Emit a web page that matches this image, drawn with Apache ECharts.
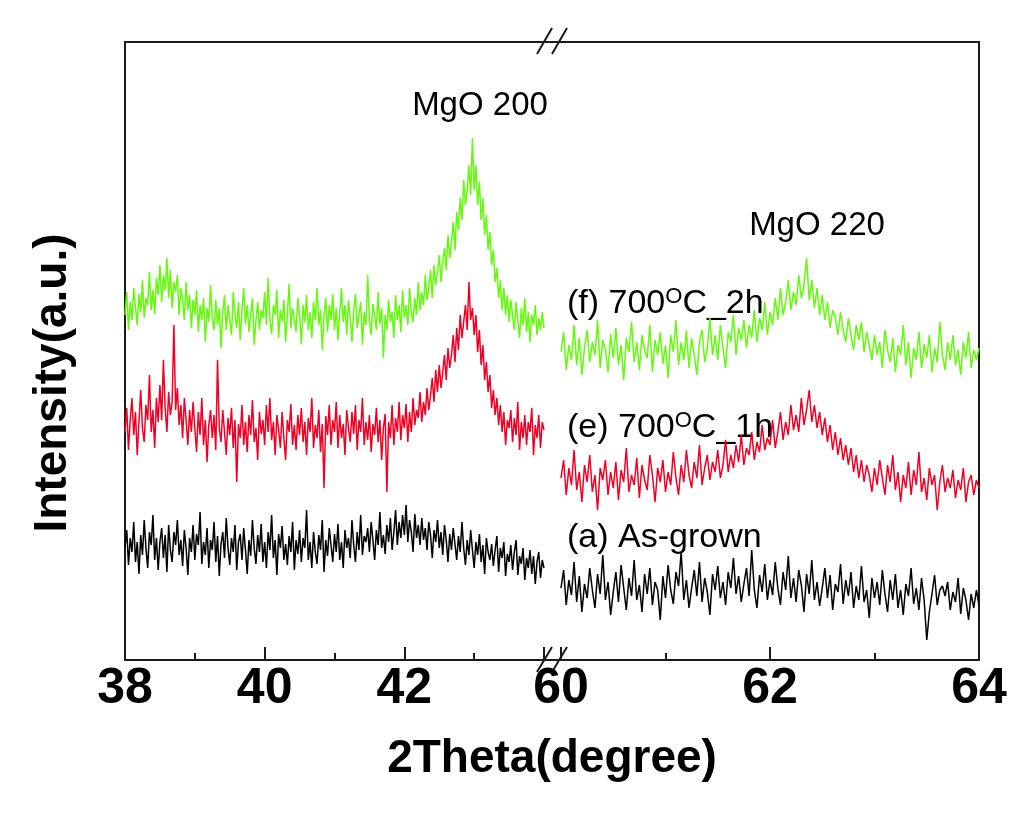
<!DOCTYPE html>
<html>
<head>
<meta charset="utf-8">
<script src="https://cdn.jsdelivr.net/npm/echarts/dist/echarts.min.js"></script>
<style>
  html, body { margin: 0; padding: 0; background: #fff; }
  #chart { width: 1024px; height: 817px; }
</style>
</head>
<body>
<div id="chart"></div>
<script>
// ---- Data (intensity in arbitrary units) ----
// Left panel: 2Theta 38.000 .. 44.000, step 0.025
const leftStart = 38, leftStep = 0.025;
// Right panel: 2Theta 60.000 .. 64.000, step 0.025
const rightStart = 60, rightStep = 0.025;

const seriesNames = ['(f) 700OC_2h', '(e) 700OC_1h', '(a) As-grown'];

const greenLeft = [
  345, 368, 330, 358, 340, 372, 352, 335, 366, 348,
  380, 342, 362, 355, 388, 350, 370, 346, 382, 365,
  395, 358, 385, 370, 402, 362, 390, 352, 378, 368,
  385, 345, 372, 360, 340, 378, 350, 365, 332, 360,
  345, 370, 328, 355, 340, 362, 318, 352, 338, 375,
  342, 330, 360, 335, 352, 312, 348, 365, 330, 355,
  340, 325, 368, 345, 332, 358, 320, 350, 372, 336,
  355, 328, 345, 362, 315, 340, 358, 330, 350, 342,
  368, 335, 382, 340, 326, 355, 345, 370, 322, 350,
  338, 360, 318, 345, 376, 332, 352, 340, 328, 362,
  345, 316, 355, 338, 365, 330, 348, 322, 358, 340,
  372, 335, 350, 310, 345, 362, 328, 355, 340, 366,
  330, 352, 320, 346, 372, 338, 355, 325, 360, 342,
  318, 350, 366, 332, 345, 358, 315, 348, 335, 385,
  340, 325, 356, 345, 330, 368, 336, 352, 302, 345,
  330, 360, 338, 348, 322, 365, 340, 355, 328, 370,
  342, 355, 335, 372, 348, 338, 362, 345, 378, 350,
  368, 355, 385, 360, 372, 390, 362, 395, 375, 388,
  405, 378, 398, 412, 390, 425, 402, 418, 438, 410,
  448, 430, 462, 440, 480, 455, 470, 495, 465, 522,
  470, 495, 455, 478, 440, 462, 425, 445, 410, 428,
  395, 410, 378, 392, 362, 380, 350, 372, 345, 365,
  338, 360, 345, 330, 358, 340, 322, 352, 335, 362,
  328, 348, 318, 345, 335, 355, 325, 342, 330, 348, 332
];
const redLeft = [
  228, 252, 210, 240, 262, 225, 248, 205, 238, 270,
  232, 218, 255, 240, 285, 228, 250, 212, 262, 238,
  275, 240, 300, 252, 228, 268, 245, 258, 335, 250,
  272, 235, 255, 222, 262, 240, 215, 250, 228, 258,
  232, 208, 248, 225, 262, 215, 240, 198, 235, 250,
  222, 245, 210, 300, 232, 218, 250, 228, 205, 242,
  225, 252, 212, 240, 178, 236, 222, 255, 215, 238,
  208, 245, 225, 260, 218, 232, 200, 248, 226, 240,
  215, 255, 228, 262, 220, 238, 205, 245, 230, 212,
  248, 222, 200, 240, 228, 256, 215, 235, 210, 245,
  225, 252, 218, 238, 205, 242, 228, 262, 212, 235,
  222, 250, 208, 236, 172, 244, 225, 255, 215, 240,
  228, 258, 212, 245, 222, 236, 205, 250, 232, 218,
  248, 226, 255, 210, 240, 228, 262, 215, 238, 220,
  245, 208, 236, 225, 252, 218, 240, 200, 232, 246,
  168, 238, 222, 255, 215, 242, 228, 258, 220, 245,
  232, 256, 218, 248, 228, 262, 235, 250, 242, 268,
  238, 258, 245, 272, 250, 265, 282, 258, 290, 268,
  295, 272, 288, 305, 280, 312, 292, 305, 325, 298,
  332, 310, 345, 322, 338, 355, 330, 378, 340, 352,
  325, 345, 308, 330, 295, 315, 280, 298, 268, 285,
  252, 270, 245, 262, 235, 255, 228, 248, 215, 240,
  232, 250, 218, 242, 225, 258, 210, 238, 222, 245,
  215, 238, 228, 252, 205, 235, 222, 245, 212, 238, 230
];
const blackLeft = [
  112, 130, 95, 122, 108, 138, 98, 118, 86, 125,
  105, 140, 112, 92, 128, 115, 145, 100, 122, 90,
  118, 132, 102, 125, 88, 135, 110, 98, 128, 115,
  140, 105, 120, 94, 130, 112, 85, 122, 108, 135,
  100, 126, 115, 148, 96, 118, 105, 132, 92, 120,
  110, 138, 98, 124, 84, 116, 128, 102, 142, 112,
  95, 122, 108, 135, 90, 118, 126, 100, 132, 110,
  86, 120, 104, 140, 112, 96, 125, 108, 136, 98,
  118, 92, 128, 110, 145, 102, 120, 85, 126, 112,
  134, 100, 116, 95, 124, 108, 138, 90, 120, 106,
  130, 98, 122, 112, 150, 100, 118, 92, 128, 108,
  96, 125, 110, 140, 88, 120, 104, 132, 115, 98,
  126, 108, 136, 100, 118, 92, 130, 112, 122, 102,
  140, 115, 98, 128, 110, 145, 105, 124, 118, 132,
  108, 138, 120, 100, 130, 115, 148, 112, 125, 106,
  135, 118, 142, 110, 128, 150, 115, 138, 122, 145,
  125, 155, 118, 140, 128, 108, 146, 122, 135, 115,
  142, 120, 132, 110, 138, 125, 102, 130, 118, 140,
  112, 128, 105, 135, 120, 98, 126, 110, 132, 116,
  100, 124, 108, 138, 112, 95, 120, 105, 130, 110,
  92, 118, 105, 126, 98, 115, 86, 122, 108, 100,
  116, 94, 110, 124, 88, 112, 102, 118, 84, 106,
  98, 115, 90, 108, 120, 85, 104, 96, 112, 80,
  102, 92, 110, 86, 104, 76, 98, 108, 82, 100, 92
];
const greenRight = [
  308, 328, 290, 315, 300, 335, 295, 322, 285, 312,
  330, 298, 318, 305, 340, 292, 320, 310, 288, 326,
  302, 332, 295, 315, 280, 322, 308, 338, 298, 318,
  290, 325, 310, 302, 335, 288, 320, 305, 328, 296,
  315, 282, 325, 308, 340, 295, 318, 300, 330, 292,
  322, 305, 285, 318, 330, 298, 312, 342, 305, 325,
  300, 335, 312, 292, 328, 318, 345, 305, 332, 320,
  340, 312, 335, 322, 350, 318, 342, 330, 358, 325,
  348, 335, 362, 340, 372, 345, 358, 380, 350, 368,
  355, 385, 362, 375, 402, 360, 380, 352, 372, 345,
  365, 340, 358, 332, 350, 342, 325, 348, 330, 318,
  342, 325, 310, 335, 320, 338, 308, 328, 315, 300,
  325, 305, 318, 292, 330, 310, 298, 322, 288, 315,
  305, 335, 295, 318, 282, 312, 300, 328, 292, 316,
  302, 325, 288, 312, 298, 338, 305, 290, 318, 300,
  325, 295, 310, 285, 318, 302, 328, 292, 310, 300, 312
];
const redRight = [
  182, 200, 165, 192, 175, 210, 170, 188, 158, 195,
  178, 205, 168, 185, 150, 192, 180, 200, 165, 188,
  172, 198, 160, 190, 178, 212, 168, 185, 175, 202,
  162, 195, 180, 170, 205, 185, 158, 192, 178, 200,
  168, 188, 175, 208, 182, 165, 195, 178, 210, 185,
  172, 198, 182, 215, 175, 192, 205, 180, 198, 188,
  210, 182, 195, 220, 188, 205, 192, 215, 198, 225,
  195, 212, 205, 228, 200, 218, 208, 235, 210, 222,
  215, 240, 212, 228, 248, 220, 238, 225, 255, 230,
  245, 228, 262, 235, 250, 270, 238, 255, 232, 248,
  225, 242, 218, 235, 210, 228, 205, 222, 200, 215,
  195, 212, 188, 205, 182, 200, 178, 195, 185, 168,
  192, 175, 200, 182, 165, 195, 178, 205, 170, 188,
  158, 185, 172, 198, 165, 190, 175, 208, 168, 182,
  160, 192, 175, 185, 150, 178, 195, 168, 182, 172,
  190, 162, 180, 170, 192, 158, 178, 185, 165, 180, 172
];
const blackRight = [
  72, 90, 55, 80, 65, 98, 58, 84, 48, 76,
  62, 92, 70, 52, 86, 66, 105, 60, 78, 45,
  68, 88, 58, 95, 72, 50, 82, 64, 100, 60,
  75, 48, 86, 66, 92, 55, 78, 70, 40, 84,
  62, 95, 70, 56, 88, 74, 108, 60, 80, 52,
  72, 90, 64, 98, 58, 82, 68, 45, 86, 70,
  94, 62, 78, 55, 88, 72, 102, 66, 84, 58,
  76, 92, 64, 110, 70, 52, 85, 68, 96, 60,
  80, 65, 98, 72, 55, 88, 70, 104, 62, 82,
  58, 90, 75, 48, 86, 66, 100, 60, 78, 54,
  72, 92, 62, 85, 50, 76, 68, 96, 56, 80,
  64, 88, 52, 74, 60, 94, 58, 70, 42, 82,
  62, 78, 55, 90, 66, 48, 80, 60, 86, 52,
  70, 45, 76, 64, 92, 56, 72, 50, 82, 60,
  20, 48, 66, 85, 55, 70, 74, 64, 78, 50,
  68, 58, 82, 46, 72, 60, 40, 66, 52, 70, 55
];

const leftTicks = [38, 40, 42];
const rightTicks = [60, 62, 64];

// ---- Build ----
function pairs(start, step, arr) {
  return arr.map((v, i) => [+(start + step * i).toFixed(3), v]);
}

const GREEN = '#62fb0a', RED = '#f20024', BLACK = '#000000';
const AX = '#1a1a1a';
const font = "'Liberation Sans', Arial, sans-serif";

const chart = echarts.init(document.getElementById('chart'), null, { renderer: 'canvas' });

function bottomAxis(grid, min, max, ticks) {
  return {
    gridIndex: grid, type: 'value', position: 'bottom', min: min, max: max, interval: 2,
    axisLine: { show: true, onZero: false, lineStyle: { color: AX, width: 2 } },
    axisTick: { show: true, inside: true, length: 13, lineStyle: { color: AX, width: 2 } },
    minorTick: { show: true, splitNumber: 2, length: 7, lineStyle: { color: AX, width: 2 } },
    splitLine: { show: false },
    axisLabel: {
      show: true, margin: 4, color: '#000', fontSize: 50, fontWeight: 'bold', fontFamily: font,
      showMinLabel: true, showMaxLabel: true,
      formatter: v => ticks.indexOf(v) >= 0 ? String(v) : ''
    }
  };
}
function topAxis(grid, min, max) {
  return {
    gridIndex: grid, type: 'value', position: 'top', min: min, max: max,
    axisLine: { show: true, onZero: false, lineStyle: { color: AX, width: 2 } },
    axisTick: { show: false }, axisLabel: { show: false }, splitLine: { show: false }
  };
}
function yAx(grid, pos) {
  return {
    gridIndex: grid, type: 'value', position: pos, min: 0, max: 618,
    axisLine: { show: true, onZero: false, lineStyle: { color: AX, width: 2 } },
    axisTick: { show: false }, axisLabel: { show: false }, splitLine: { show: false }
  };
}
function line(name, xi, yi, data, color) {
  return {
    name: name, type: 'line', xAxisIndex: xi, yAxisIndex: yi, data: data,
    showSymbol: false, symbol: 'none', silent: true,
    lineStyle: { color: color, width: 1.5 }, itemStyle: { color: color }
  };
}

const brk = (x1, y1, x2, y2) => ({ type: 'line', silent: true,
  shape: { x1: x1, y1: y1, x2: x2, y2: y2 }, style: { stroke: AX, lineWidth: 2 } });

const labelRich = {
  a: { fontSize: 34, fontFamily: font, color: '#000', lineHeight: 36 },
  s: { fontSize: 22, fontFamily: font, color: '#000', verticalAlign: 'top', lineHeight: 36 }
};

const option = {
  animation: false,
  backgroundColor: '#fff',
  grid: [
    { left: 125, top: 42, width: 419, height: 618 },
    { left: 561, top: 42, width: 418, height: 618 }
  ],
  xAxis: [
    bottomAxis(0, 38, 44, leftTicks),
    bottomAxis(1, 60, 64, rightTicks),
    topAxis(0, 38, 44),
    topAxis(1, 60, 64)
  ],
  yAxis: [ yAx(0, 'left'), yAx(1, 'right') ],
  series: [
    line(seriesNames[0], 0, 0, pairs(leftStart, leftStep, greenLeft), GREEN),
    line(seriesNames[1], 0, 0, pairs(leftStart, leftStep, redLeft), RED),
    line(seriesNames[2], 0, 0, pairs(leftStart, leftStep, blackLeft), BLACK),
    line(seriesNames[0], 1, 1, pairs(rightStart, rightStep, greenRight), GREEN),
    line(seriesNames[1], 1, 1, pairs(rightStart, rightStep, redRight), RED),
    line(seriesNames[2], 1, 1, pairs(rightStart, rightStep, blackRight), BLACK)
  ],
  graphic: [
    // gap segments of the frame and axis-break marks
    brk(544, 42, 561, 42),
    brk(544, 660, 561, 660),
    brk(537, 54, 552, 28), brk(552, 54, 567, 28),
    brk(537, 672, 552, 647), brk(552, 672, 567, 647),
    // axis titles
    { type: 'text', x: 552, y: 759, silent: true,
      style: { text: '2Theta(degree)', font: "bold 46px " + font, fill: '#000',
               textAlign: 'center', textVerticalAlign: 'middle' } },
    { type: 'text', x: 53, y: 383, rotation: Math.PI / 2, silent: true,
      style: { text: 'Intensity(a.u.)', font: "bold 46px " + font, fill: '#000',
               textAlign: 'center', textVerticalAlign: 'middle' } },
    // peak annotations
    { type: 'text', x: 480, y: 106, silent: true,
      style: { text: 'MgO 200', font: "33px " + font, fill: '#000',
               textAlign: 'center', textVerticalAlign: 'middle' } },
    { type: 'text', x: 817, y: 226, silent: true,
      style: { text: 'MgO 220', font: "33px " + font, fill: '#000',
               textAlign: 'center', textVerticalAlign: 'middle' } },
    // series labels
    { type: 'text', x: 567, y: 304, silent: true,
      style: { text: '{a|(f) 700}{s|O}{a|C_2h}', rich: labelRich,
               textAlign: 'left', textVerticalAlign: 'middle' } },
    { type: 'text', x: 567, y: 428, silent: true,
      style: { text: '{a|(e) 700}{s|O}{a|C_1h}', rich: labelRich,
               textAlign: 'left', textVerticalAlign: 'middle' } },
    { type: 'text', x: 567, y: 538, silent: true,
      style: { text: '{a|(a) As-grown}', rich: labelRich,
               textAlign: 'left', textVerticalAlign: 'middle' } }
  ]
};
chart.setOption(option);
</script>
</body>
</html>
